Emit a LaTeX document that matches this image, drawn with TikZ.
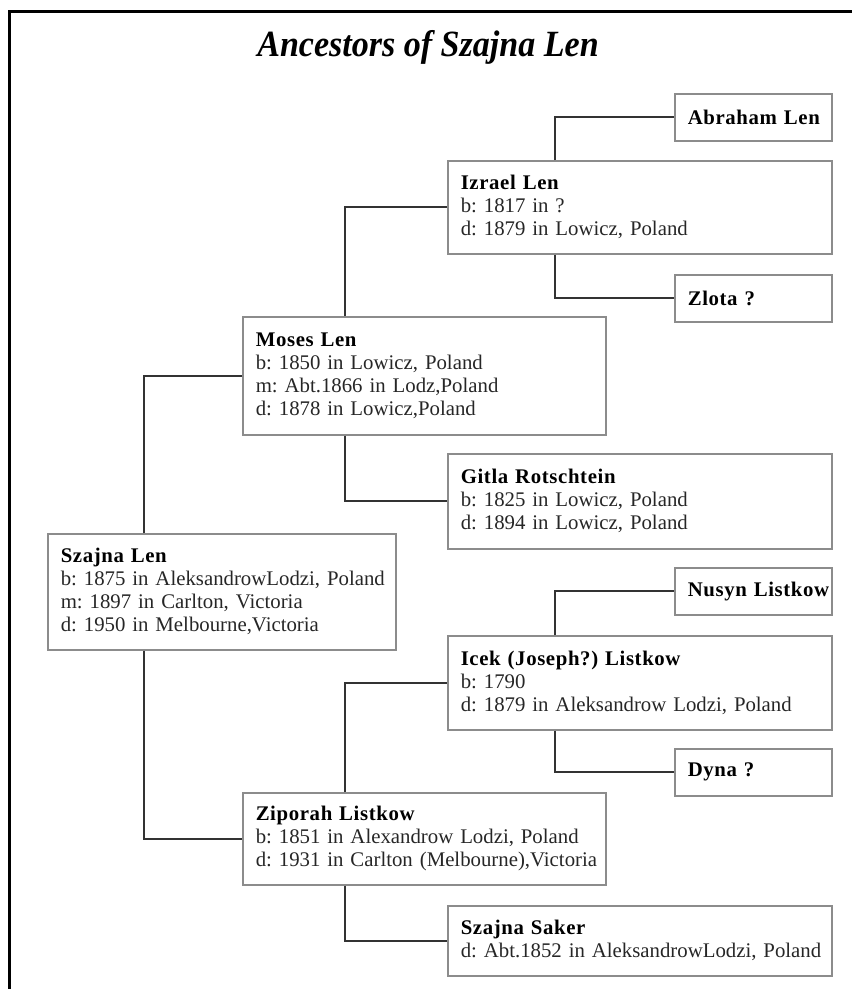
\documentclass[tikz,border=0pt]{standalone}
\usepackage{fontspec}
\usepackage{graphicx}
\setmainfont{Liberation Serif}
\frenchspacing
\definecolor{boxgray}{HTML}{8C8C8C}
\definecolor{linegray}{HTML}{333333}
\definecolor{textgray}{HTML}{262626}
\newcommand\nm[1]{\mbox{\color{black}\bfseries\addfontfeature{LetterSpace=3}#1}}
\newcommand\oneline[1]{\mbox{#1}}
\tikzset{
  person/.style={draw=boxgray, line width=1.5pt, rectangle, anchor=north west,
    inner xsep=13pt, inner ysep=0pt, align=left, text=textgray,
    font=\fontsize{20.8}{23}\selectfont},
  link/.style={draw=linegray, line width=2pt},
}
\begin{document}
\begin{tikzpicture}[x=1pt,y=-1pt]
\useasboundingbox (0,0) rectangle (852,989);
\draw[line width=3pt] (856,11) -- (9,11) -- (9,993);
\node (title) at (428,47) {\fontsize{37}{40}\selectfont\bfseries\itshape\scalebox{0.92}[1]{Ancestors of Szajna Len}};

\node[person, minimum width=348pt, minimum height=116pt, text width=322pt] (szajna) at (47,533)
  {\nm{Szajna Len}\\\oneline{b: 1875 in AleksandrowLodzi, Poland}\\\oneline{m: 1897 in Carlton, Victoria}\\\oneline{d: 1950 in Melbourne,Victoria}};
\node[person, minimum width=363pt, minimum height=118pt, text width=337pt] (moses) at (242,316)
  {\nm{Moses Len}\\\oneline{b: 1850 in Lowicz, Poland}\\\oneline{m: Abt.1866 in Lodz,Poland}\\\oneline{d: 1878 in Lowicz,Poland}};
\node[person, minimum width=363pt, minimum height=92pt, text width=337pt] (ziporah) at (242,792)
  {\nm{Ziporah Listkow}\\\oneline{b: 1851 in Alexandrow Lodzi, Poland}\\\oneline{d: 1931 in Carlton (Melbourne),Victoria}};
\node[person, minimum width=384pt, minimum height=93pt, text width=358pt] (izrael) at (447,160)
  {\nm{Izrael Len}\\\oneline{b: 1817 in ?}\\\oneline{d: 1879 in Lowicz, Poland}};
\node[person, minimum width=384pt, minimum height=95pt, text width=358pt] (gitla) at (447,453)
  {\nm{Gitla Rotschtein}\\\oneline{b: 1825 in Lowicz, Poland}\\\oneline{d: 1894 in Lowicz, Poland}};
\node[person, minimum width=384pt, minimum height=94pt, text width=358pt] (icek) at (447,635)
  {\nm{Icek (Joseph?) Listkow}\\\oneline{b: 1790}\\\oneline{d: 1879 in Aleksandrow Lodzi, Poland}};
\node[person, minimum width=384pt, minimum height=70pt, text width=358pt] (saker) at (447,905)
  {\nm{Szajna Saker}\\\oneline{d: Abt.1852 in AleksandrowLodzi, Poland}};
\node[person, minimum width=157pt, minimum height=47pt, text width=131pt] (abraham) at (674,93) {\nm{Abraham Len}};
\node[person, minimum width=157pt, minimum height=47pt, text width=131pt] (zlota) at (674,274) {\nm{Zlota ?}};
\node[person, minimum width=157pt, minimum height=47pt, text width=131pt] (nusyn) at (674,567) {\nm{Nusyn Listkow}};
\node[person, minimum width=157pt, minimum height=47pt, text width=131pt] (dyna) at (674,748) {\nm{Dyna ?}};

\coordinate (c1) at (144,0);
\coordinate (c2) at (345,0);
\coordinate (c3) at (555,0);
\draw[link] (szajna.north -| c1) |- (moses.west);
\draw[link] (szajna.south -| c1) |- (ziporah.west);
\draw[link] (moses.north -| c2) |- (izrael.west);
\draw[link] (moses.south -| c2) |- (gitla.west);
\draw[link] (ziporah.north -| c2) |- (icek.west);
\draw[link] (ziporah.south -| c2) |- (saker.west);
\draw[link] (izrael.north -| c3) |- (abraham.west);
\draw[link] (izrael.south -| c3) |- (zlota.west);
\draw[link] (icek.north -| c3) |- (nusyn.west);
\draw[link] (icek.south -| c3) |- (dyna.west);
\end{tikzpicture}
\end{document}
